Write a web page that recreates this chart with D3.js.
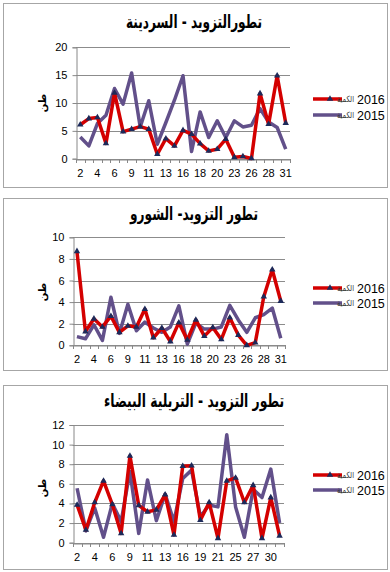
<!DOCTYPE html>
<html><head><meta charset="utf-8">
<script src="https://cdnjs.cloudflare.com/ajax/libs/d3/7.8.5/d3.min.js"></script>
<style>
html,body{margin:0;padding:0;background:#fff;}
svg{display:block;}
</style></head>
<body>
<svg id="c" width="390" height="572"></svg>
<script>
// ---- data ----
const days1 = [2,3,4,5,6,8,9,10,11,12,13,15,16,17,18,19,20,22,23,25,26,27,28,30,31];
const sardine2016 = [6.1,7.2,7.4,2.75,11.8,4.85,5.3,5.75,5.3,0.8,3.6,2.3,5.1,4.4,2.7,1.4,1.7,3.5,0.25,0.4,0.05,11.7,6.2,14.9,6.4];
const sardine2015 = [3.9,2.3,6.3,7.8,12.6,9.8,15.4,5.7,10.4,2.6,6.5,10.5,14.9,1.3,8.4,3.8,6.8,3.8,6.8,5.7,6.0,9.0,6.6,5.6,1.7];

const days2 = [2,3,4,5,6,8,9,10,11,12,13,15,16,17,18,19,20,22,23,25,26,27,28,30,31];
const chourou2016 = [8.7,1.27,2.45,1.7,2.7,1.2,1.8,1.7,3.35,0.7,1.6,0.35,2.1,0.5,2.35,0.85,1.65,0.55,2.55,0.95,0.0,0.25,4.5,7.0,4.1];
const chourou2015 = [0.8,0.6,1.9,0.45,4.45,1.1,3.8,1.35,2.15,1.6,1.2,1.7,3.65,0.1,2.05,1.5,1.5,1.7,3.7,2.35,1.2,2.55,2.85,3.45,0.65];

const days3 = [2,3,4,5,6,8,9,10,11,12,13,15,16,18,19,20,21,23,25,26,27,29,30,31];
const trilia2016 = [3.85,1.3,4.1,6.3,3.9,0.95,8.85,3.8,3.15,3.35,4.9,0.8,7.8,7.85,2.3,4.1,0.45,6.3,6.6,4.1,5.85,0.45,4.6,0.7];
const trilia2015 = [5.55,1.2,3.55,0.55,4.0,2.15,7.25,0.95,6.4,2.25,4.95,2.15,6.55,7.4,2.65,3.85,3.65,11.0,3.65,0.55,5.45,4.6,7.5,2.0];

const titles = ["تطورالتزويد - السردينة", "تطور التزويد- الشورو", "تطور التزويد - التريلية البيضاء"];
const yTicks1 = [0,5,10,15,20];
const yTicks2 = [0,2,4,6,8,10];
const yTicks3 = [0,2,4,6,8,10,12];
const seriesWord = "الكمية";
const seriesYears = ["2016", "2015"];
const yTitle = "طن";

// ---- layout ----
const panels = [
  {box:[3,3,384,184], title:titles[0], titleY:28, titleW:136, days:days1, a:sardine2016, b:sardine2015, ticks:yTicks1,
   x0:76, x1:290, yTop:47.3, yBot:158.7, legY:[99,115], yTitleY:103},
  {box:[3,198,384,172], title:titles[1], titleY:220, titleW:128, days:days2, a:chourou2016, b:chourou2015, ticks:yTicks2,
   x0:72.7, x1:285, yTop:237.3, yBot:345.3, legY:[288,303], yTitleY:292},
  {box:[3,385,384,184], title:titles[2], titleY:407, titleW:180, days:days3, a:trilia2016, b:trilia2015, ticks:yTicks3,
   x0:72.7, x1:284, yTop:425, yBot:542.7, legY:[475,490], yTitleY:488}
];

const svg = d3.select("#c");
const RED = "#d40000", PURPLE = "#62508a", MARK = "#1c2a5a";

panels.forEach(p => {
  const g = svg.append("g");
  g.append("rect").attr("x",p.box[0]+0.5).attr("y",p.box[1]+0.5)
    .attr("width",p.box[2]).attr("height",p.box[3])
    .attr("fill","#fff").attr("stroke","#a6a6a6").attr("stroke-width",1);

  g.append("text").attr("x",194).attr("y",p.titleY)
    .attr("text-anchor","middle").attr("font-family","DejaVu Sans, sans-serif")
    .attr("font-weight","bold").attr("font-size",18).attr("fill","#000")
    .attr("textLength",p.titleW).attr("lengthAdjust","spacingAndGlyphs").text(p.title);

  const x = d3.scaleBand().domain(p.days.map(String)).range([p.x0,p.x1]).padding(0);
  const y = d3.scaleLinear().domain([0,d3.max(p.ticks)]).range([p.yBot,p.yTop]);
  const cx = d => x(String(d)) + x.bandwidth()/2;

  // gridlines
  g.append("g").selectAll("line").data(p.ticks).join("line")
    .attr("x1",p.x0).attr("x2",p.x1)
    .attr("y1",d=>Math.round(y(d))+0.5).attr("y2",d=>Math.round(y(d))+0.5)
    .attr("stroke","#8c8c8c").attr("stroke-width",1);

  // y axis
  const ya = g.append("g").attr("transform",`translate(${Math.round(p.x0)+0.5},0)`)
    .call(d3.axisLeft(y).tickValues(p.ticks).tickSize(4).tickPadding(5));
  ya.select(".domain").attr("stroke","#888");
  ya.selectAll(".tick line").attr("stroke","#888");
  ya.selectAll("text").attr("font-family","Liberation Sans, Arial, sans-serif").attr("font-size",11).attr("fill","#000");

  // x axis
  const xa = g.append("g").attr("transform",`translate(0,${Math.round(p.yBot)+0.5})`)
    .call(d3.axisBottom(x).tickSize(0).tickPadding(10)
      .tickFormat((d,i)=> i%2===0 ? d : ""));
  xa.select(".domain").attr("stroke","#888");
  xa.selectAll("text").attr("font-family","Liberation Sans, Arial, sans-serif").attr("font-size",11).attr("fill","#000");
  const bounds = p.days.map(d=>x(String(d))).concat([p.x1]);
  g.append("g").selectAll("line").data(bounds).join("line")
    .attr("x1",d=>Math.round(d)+0.5).attr("x2",d=>Math.round(d)+0.5)
    .attr("y1",Math.round(p.yBot)).attr("y2",Math.round(p.yBot)+4)
    .attr("stroke","#888");

  // y title
  g.append("text").attr("transform",`translate(46,${p.yTitleY}) rotate(-90)`)
    .attr("text-anchor","middle").attr("font-family","DejaVu Sans, sans-serif")
    .attr("font-size",10).attr("font-weight","bold").text(yTitle);

  const line = d3.line().x((d,i)=>cx(p.days[i])).y(d=>y(d));
  g.append("path").datum(p.b).attr("d",line).attr("fill","none")
    .attr("stroke",PURPLE).attr("stroke-width",3.5).attr("stroke-linejoin","round");
  g.append("path").datum(p.a).attr("d",line).attr("fill","none")
    .attr("stroke",RED).attr("stroke-width",3.5).attr("stroke-linejoin","round");
  const tri = d3.symbol().type(d3.symbolTriangle).size(18);
  g.append("g").selectAll("path").data(p.a).join("path")
    .attr("d",tri).attr("transform",(d,i)=>`translate(${cx(p.days[i])},${y(d)})`)
    .attr("fill",MARK);

  // legend
  [[RED,true],[PURPLE,false]].forEach((s,k)=>{
    const ly = p.legY[k];
    g.append("line").attr("x1",313).attr("x2",342).attr("y1",ly).attr("y2",ly)
      .attr("stroke",s[0]).attr("stroke-width",3.5);
    if(s[1]) g.append("path").attr("d",tri).attr("transform",`translate(330,${ly})`).attr("fill",MARK);
    const t = g.append("text").attr("y",ly+4.5);
    t.append("tspan").attr("x",337).attr("dy",-1.5)
      .attr("font-family","DejaVu Sans, sans-serif").attr("font-size",8.5)
      .attr("textLength",17).attr("lengthAdjust","spacingAndGlyphs")
      .attr("fill","#333").text(seriesWord);
    t.append("tspan").attr("x",357).attr("dy",1.5)
      .attr("font-family","Liberation Sans, Arial, sans-serif").attr("font-size",12.5)
      .attr("fill","#000").text(seriesYears[k]);
  });
});
</script>
</body></html>
